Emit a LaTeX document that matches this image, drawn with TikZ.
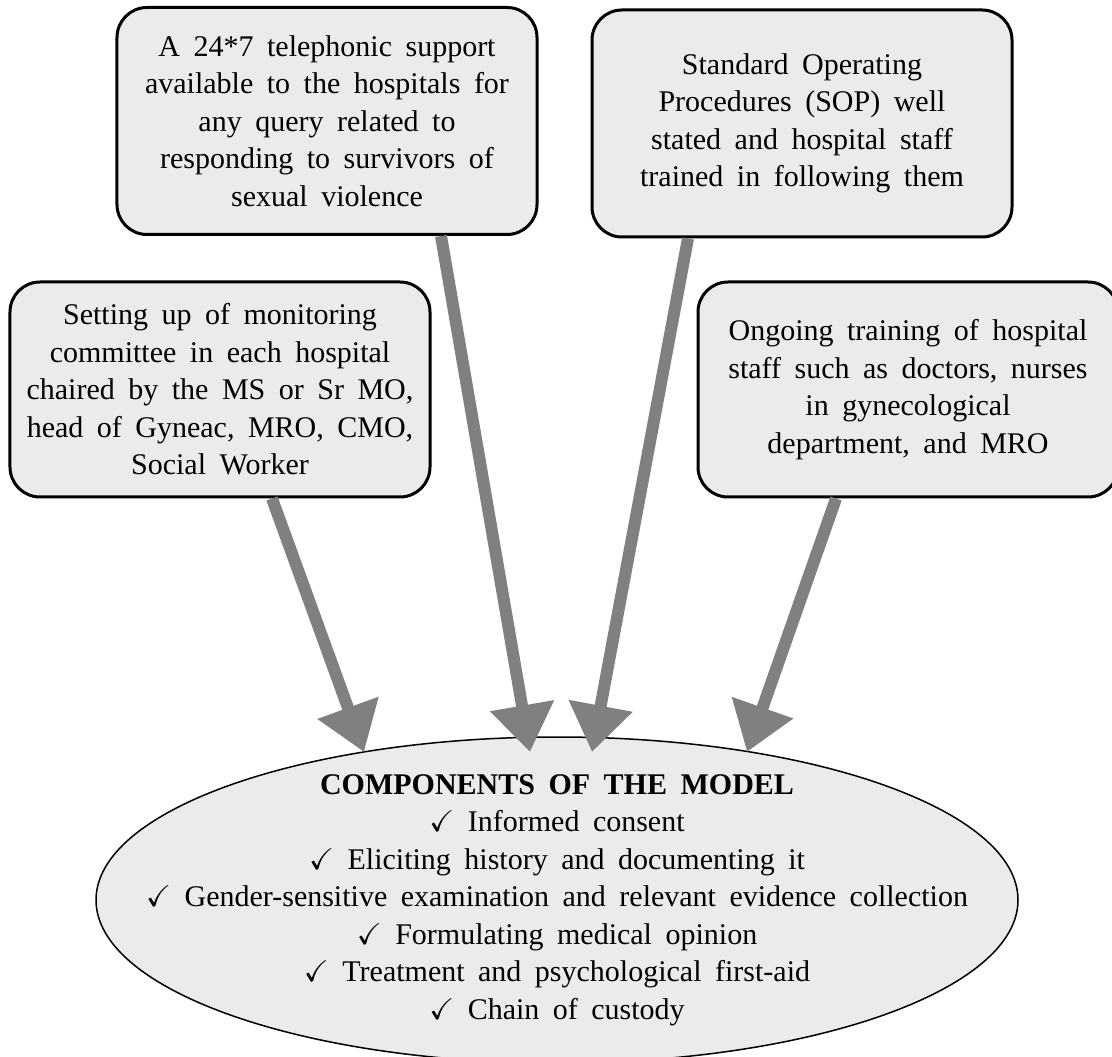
\documentclass[tikz,border=0pt]{standalone}
\usepackage{amssymb}
\usepackage{fontspec}
\setmainfont{Liberation Serif}
\usetikzlibrary{arrows.meta}

\newcommand{\boxfont}{\fontsize{12}{15}\selectfont\spaceskip=5.4pt\relax}

\tikzset{
  infobox/.style={draw, line width=1.2pt, rounded corners=12pt, fill=black!8,
    align=center, inner sep=0pt, minimum width=168pt, font=\boxfont},
  bigarrow/.style={gray, line width=4.8pt, -{Triangle[length=18.8pt,width=24.8pt]}},
}

\begin{document}
\begin{tikzpicture}[x=0.4pt, y=-0.4pt]
            \useasboundingbox (0,0) rectangle (1112,1057);

            % The model in the middle
            \draw[line width=0.6pt, fill=black!8] (557,900) ellipse [x radius=461, y radius=163];
            \node[align=center, font=\boxfont] (model) at (557,900)
                {\textbf{COMPONENTS OF THE MODEL}\\
                 $\checkmark$ Informed consent\\
                 $\checkmark$ Eliciting history and documenting it\\
                 $\checkmark$ Gender-sensitive examination and relevant evidence collection\\
                 $\checkmark$ Formulating medical opinion\\
                 $\checkmark$ Treatment and psychological first-aid\\
                 $\checkmark$ Chain of custody};

            % The four supporting boxes
            \node[infobox, minimum height=90.8pt] (helpline) at (327,121)
                {A 24*7 telephonic support\\ available to the hospitals for\\ any query related to\\
                 responding to survivors of\\ sexual violence};
            \node[infobox, minimum height=90.8pt] (sop) at (802,123.5)
                {Standard Operating\\ Procedures (SOP) well\\ stated and hospital staff\\
                 trained in following them};
            \node[infobox, minimum height=86pt] (committee) at (220,389.5)
                {Setting up of monitoring\\ committee in each hospital\\ chaired by the MS or Sr MO,\\
                 head of Gyneac, MRO, CMO,\\ Social Worker};
            \node[infobox, minimum height=86pt] (training) at (908,389.5)
                {Ongoing training of hospital\\ staff such as doctors, nurses\\ in gynecological\\
                 department, and MRO};

            % Where the arrows meet the model
            \coordinate (tip1) at (364,752);
            \coordinate (tip2) at (530,752);
            \coordinate (tip3) at (592,752);
            \coordinate (tip4) at (747,752);

            % Arrows from the boxes into the model
            \foreach \src/\dx/\n in {committee/20.8/1, helpline/45.6/2, sop/-45.6/3, training/-28.8/4}
                {
                    \draw[bigarrow] ([xshift=\dx pt]\src.south) -- (tip\n);
                }

        \end{tikzpicture}
\end{document}
